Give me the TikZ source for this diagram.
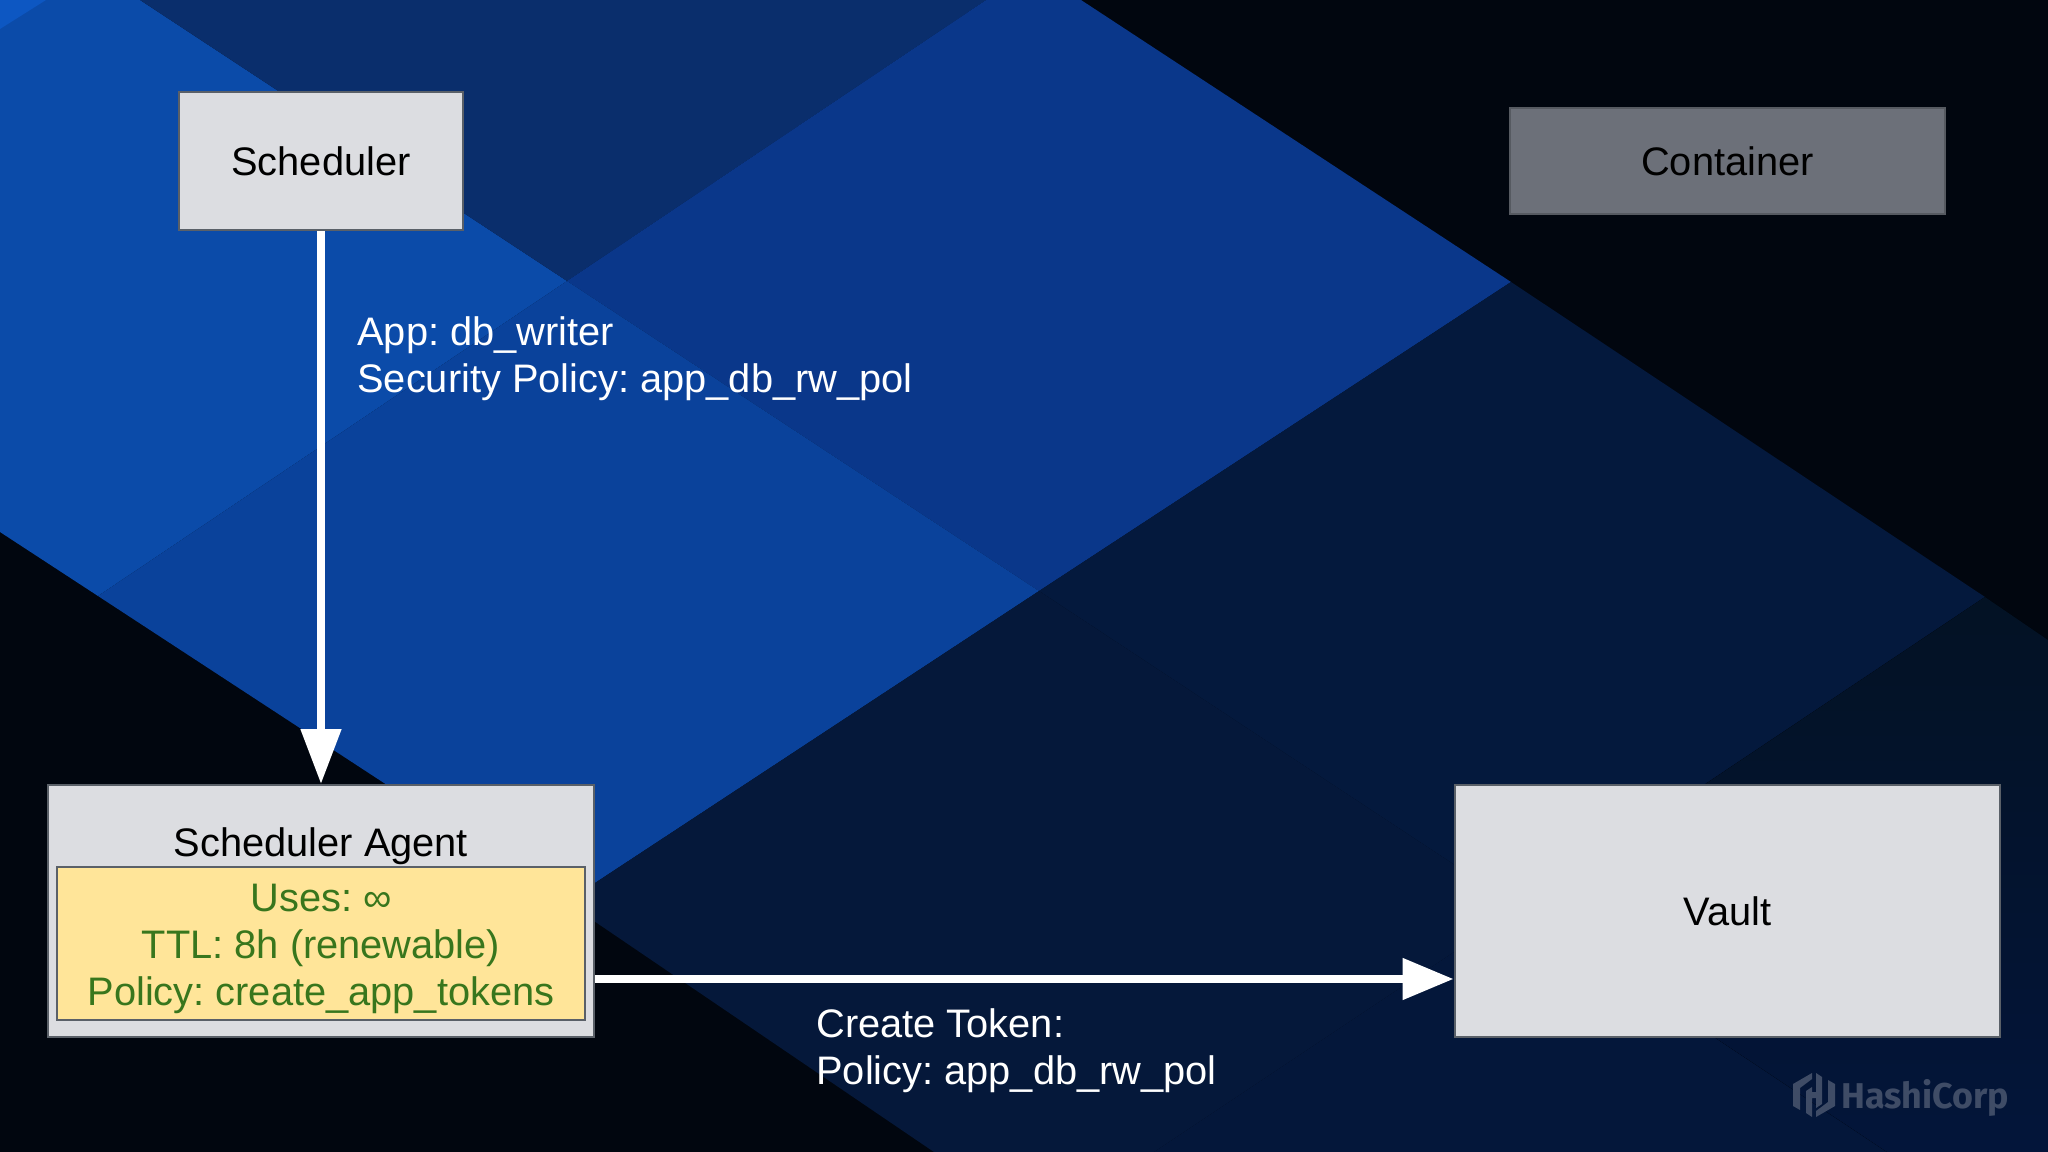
\documentclass[tikz,border=0pt]{standalone}
\usepackage{fontspec}
\setmainfont{Liberation Sans}
\newfontfamily\logofont{Fira Sans}
\usetikzlibrary{arrows.meta}
\frenchspacing
\definecolor{bgblack}{HTML}{01060F}
\definecolor{blueA}{HTML}{0B4BA9}
\definecolor{blueB}{HTML}{0A429B}
\definecolor{blueC}{HTML}{0A378A}
\definecolor{blueT}{HTML}{0A2E6C}
\definecolor{blueCorner}{HTML}{0D57C2}
\definecolor{navyTop}{HTML}{04193D}
\definecolor{navyLeft}{HTML}{05183A}
\definecolor{navyBottom}{HTML}{04173A}
\definecolor{navyEdge}{HTML}{031224}
\definecolor{navyCorner}{HTML}{03153A}
\definecolor{boxgray}{HTML}{DCDDE1}
\definecolor{boxline}{HTML}{5A6068}
\definecolor{contgray}{HTML}{6C7079}
\definecolor{tokenfill}{HTML}{FFE599}
\definecolor{tokentext}{HTML}{38761D}
\definecolor{logogray}{HTML}{3F4C66}

\begin{document}
\begin{tikzpicture}[x=0.02cm,y=-0.02cm,
  every node/.style={font=\fontsize{22.65}{26.7}\selectfont},
  graybox/.style={draw=boxline,line width=0.04cm,fill=boxgray,text=black,inner sep=0pt},
  tokenbox/.style={draw=boxline,line width=0.04cm,fill=tokenfill,inner sep=0pt},
  flowlabel/.style={text=white,align=left,anchor=north west,inner sep=0pt},
  flowarrow/.style={draw=white,line width=0.16cm}]
\useasboundingbox (0,0) rectangle (2048,1152);
% background
\fill[bgblack] (0,0) rectangle (2048,1152);
\fill[blueA] (0,0)--(140,0)--(567,281)--(98,596)--(0,532)--cycle;
\fill[blueCorner] (0,0)--(46,0)--(0,29)--cycle;
\fill[blueT] (140,0)--(986,0)--(567,281)--cycle;
\fill[blueC] (986,0)--(1081,0)--(1511,282)--(1039,591)--(567,281)--cycle;
\fill[blueB] (567,281)--(1039,591)--(566,902)--(98,596)--cycle;
\fill[navyTop] (1511,282)--(1985,597)--(1520,908)--(1039,591)--cycle;
\fill[navyLeft] (1039,591)--(1520,908)--(1154,1152)--(934,1152)--(566,902)--cycle;
\fill[navyBottom] (1520,908)--(1887,1152)--(1154,1152)--cycle;
\fill[top color=navyEdge,bottom color=navyCorner] (1520,908)--(1985,597)--(2048,640)--(2048,1152)--(1887,1152)--cycle;
% logo
\fill[logogray] (1812,1073)--(1793,1084)--(1793,1106)--(1800,1110)--(1800,1088)--(1812,1079)--cycle;
\fill[logogray] (1806,1091)--(1812,1087)--(1812,1092)--(1816,1092)--(1816,1073)--(1822,1077)--(1822,1104)--(1816,1108)--(1816,1098)--(1812,1098)--(1812,1117)--(1806,1113)--cycle;
\fill[logogray] (1816,1117)--(1835,1106)--(1835,1084)--(1828,1080)--(1828,1102)--(1816,1111)--cycle;
\node[text=logogray,inner sep=0pt,anchor=base west,font=\logofont\bfseries\fontsize{20.4}{25}\selectfont] (logotext) at (1841,1108) {HashiCorp};
% boxes
\node[graybox,minimum width=5.68cm,minimum height=2.76cm] (scheduler) at (321,161) {Scheduler};
\node[graybox,draw=contgray!80!black,fill=contgray,minimum width=8.7cm,minimum height=2.12cm] (container) at (1727.5,161) {Container};
\node[graybox,minimum width=10.92cm,minimum height=5.04cm] (agent) at (321,911) {};
\node[text=black,inner sep=0pt] (agentname) at (321,846) {Scheduler Agent};
\node[tokenbox,minimum width=10.58cm,minimum height=3.06cm] (agenttoken) at (321,943.5) {};
\node[text=tokentext,align=center,inner sep=0pt] (tokenrules) at (321,949) {Uses: ∞\\TTL: 8h (renewable)\\Policy: create\_app\_tokens};
\node[graybox,minimum width=10.92cm,minimum height=5.04cm] (vault) at (1727.5,911) {Vault};
% arrows
\draw[flowarrow,-{Triangle[length=1.1cm,width=0.78cm]}] (scheduler.south)--(agent.north);
\draw[flowarrow,-{Triangle[length=1.02cm,width=0.8cm]}] ([yshift=-1.36cm]agent.east)--([yshift=-1.36cm]vault.west);
\node[flowlabel] (applabel) at (357,316) {App: db\_writer\\Security Policy: app\_db\_rw\_pol};
\node[flowlabel] (tokenlabel) at (816,1008) {Create Token:\\Policy: app\_db\_rw\_pol};
\end{tikzpicture}
\end{document}
